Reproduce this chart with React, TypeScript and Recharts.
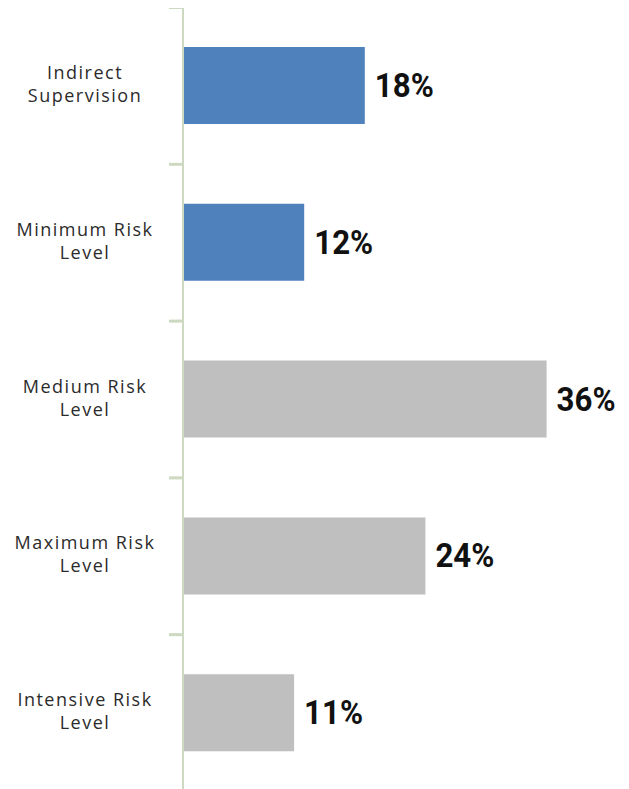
import React from "react";
import { BarChart, Bar, XAxis, YAxis, Cell, LabelList } from "recharts";

const categories = [
  "Indirect Supervision",
  "Minimum Risk Level",
  "Medium Risk Level",
  "Maximum Risk Level",
  "Intensive Risk Level",
];
const values = [18, 12, 36, 24, 11];
const barColors = ["#4F81BD", "#4F81BD", "#BFBFBF", "#BFBFBF", "#BFBFBF"];
const labelLines: string[][] = [
  ["Indirect", "Supervision"],
  ["Minimum Risk", "Level"],
  ["Medium Risk", "Level"],
  ["Maximum Risk", "Level"],
  ["Intensive Risk", "Level"],
];

const data = categories.map((c, i) => ({ name: c, value: values[i], idx: i }));

const CHART_W = 629;
const CHART_H = 800;
const MARGIN = { top: 7, right: 42, bottom: 9, left: 0 };
const AXIS_W = 183;
const BAND = (CHART_H - MARGIN.top - MARGIN.bottom) / categories.length;
const AXIS_COLOR = "#CDD9C1";

const CategoryTick = (props: any) => {
  const { x, y, payload, index } = props;
  const lines = labelLines[index] || [payload.value];
  const cy = Number(y);
  const cx = Number(x);
  const top = cy - BAND / 2;
  const bottom = cy + BAND / 2;
  return (
    <g>
      <rect x={cx - 6} y={top - 0.5} width={14} height={2.5} fill={AXIS_COLOR} />
      <rect x={cx - 6} y={bottom - 1} width={14} height={2} fill={AXIS_COLOR} />
      <text
        x={85}
        y={cy}
        textAnchor="middle"
        fontFamily="'Open Sans', sans-serif"
        fontSize={18}
        letterSpacing={1.5}
        fill="#2b2b2b"
      >
        {lines.map((l, i) => (
          <tspan key={i} x={85} dy={i === 0 ? -6 - ((lines.length - 1) * 23) / 2 + 11 : 23}>
            {l}
          </tspan>
        ))}
      </text>
    </g>
  );
};

const ValueLabel = (props: any) => {
  const { x, y, width, height, value } = props;
  const lx = x + width + 10;
  const ly = y + height / 2;
  return (
    <text
      x={lx}
      y={ly}
      dominantBaseline="central"
      transform={`translate(${lx} ${ly}) scale(0.92 1) translate(${-lx} ${-ly})`}
      fontFamily="Roboto, sans-serif"
      fontWeight={700}
      fontSize={34}
      fill="#111111"
    >
      {`${value}%`}
    </text>
  );
};

export default function App() {
  return (
    <div style={{ marginLeft: -8, marginTop: -8, width: CHART_W, height: CHART_H }}>
      <BarChart
        width={CHART_W}
        height={CHART_H}
        data={data}
        layout="vertical"
        margin={MARGIN}
        barCategoryGap={0}
      >
        <XAxis type="number" domain={[0, 40]} hide />
        <YAxis
          type="category"
          dataKey="name"
          width={AXIS_W}
          axisLine={{ stroke: AXIS_COLOR, strokeWidth: 2 }}
          tickLine={false}
          tick={<CategoryTick />}
          interval={0}
        />
        <Bar dataKey="value" barSize={77} isAnimationActive={false}>
          {data.map((d, i) => (
            <Cell key={i} fill={barColors[i]} />
          ))}
          <LabelList dataKey="value" content={<ValueLabel />} />
        </Bar>
      </BarChart>
    </div>
  );
}
